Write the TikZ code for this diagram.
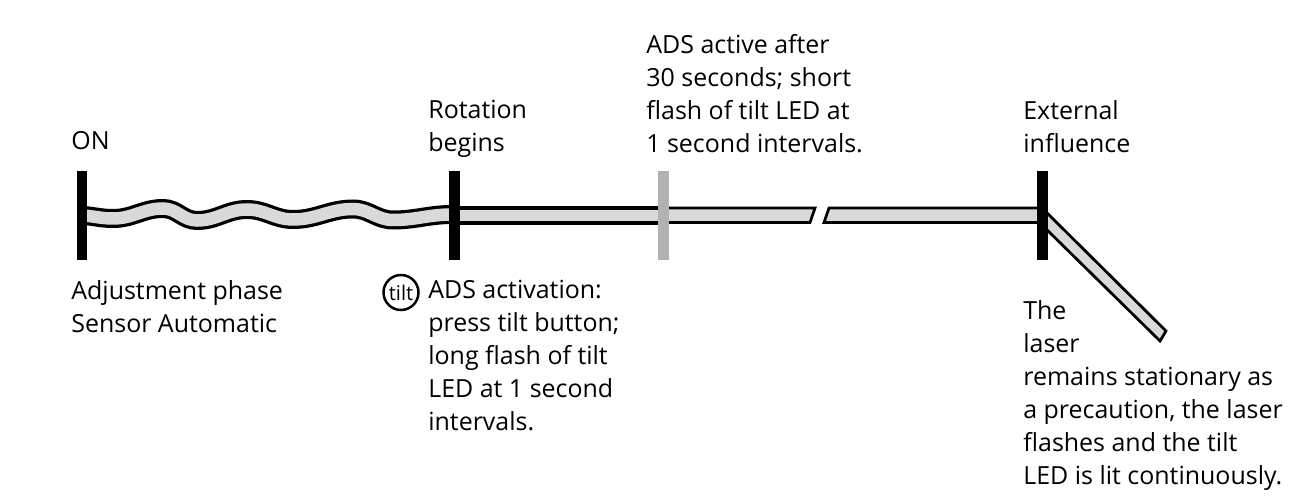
\documentclass[tikz,border=0pt]{standalone}
\usepackage{fontspec}
\setmainfont{Open Sans}
\usepackage{xcolor}
\definecolor{bandgray}{HTML}{D9D9D9}
\definecolor{midbar}{HTML}{B2B2B2}
\tikzset{
  lbl/.style={anchor=north west, inner sep=0pt, align=left, font=\fontsize{14.2}{18.75}\selectfont},
  bar/.style={fill=black, inner sep=0pt, minimum width=0.22cm, minimum height=1.78cm},
  band/.style={draw=black, fill=bandgray, line width=0.055cm, line join=miter},
}

\begin{document}
\begin{tikzpicture}[x=0.02cm,y=-0.02cm]
\useasboundingbox (0,0) rectangle (1293,496);

% wavy adjustment phase
\draw[line width=0.065cm, double=bandgray, double distance=0.25cm, black]
  (84,215.5) to[out=-5,in=180] (113,218.5) to[out=0,in=180] (163,208.5) to[out=0,in=180] (197,220.5)
  to[out=0,in=180] (247,209.5) to[out=0,in=180] (293,219.5) to[out=0,in=180] (353,209)
  to[out=0,in=180] (393,220) to[out=0,in=180] (452,214.5);

% rotating part
\fill[bandgray] (452,208) rectangle (662,223);
\draw[line width=0.08cm] (452,208) -- (662,208) (452,223) -- (662,223);
\draw[band] (662,208) -- (815,208) -- (810,222.5) -- (662,222.5);
\draw[band] (829,208) -- (1042,208) -- (1042,222.5) -- (824,222.5) -- cycle;
\draw[band] (1043,209) -- (1166,331) -- (1160,341) -- (1043,226) -- cycle;

\node[bar, minimum width=0.2cm] (onbar) at (82,215.5) {};
\node[bar] (rotbar) at (454.5,215.5) {};
\node[bar, fill=midbar] (adsbar) at (663.5,215.5) {};
\node[bar] (extbar) at (1042.5,215.5) {};

\node[lbl] (on) at (71,131) {ON};
\node[lbl] (adjust) at (71,280) {Adjustment phase\\Sensor Automatic};
\node[lbl] (rotation) at (428,100) {Rotation\\begins};
\node[lbl] (activation) at (428,280) {ADS activation:\\press tilt button;\\long flash of tilt\\LED at 1 second\\intervals.};
\node[lbl] (active) at (646,34) {ADS active after\\30 seconds; short\\flash of tilt LED at\\1 second intervals.};
\node[lbl] (external) at (1023,100) {External\\influence};
\node[lbl] (stationary) at (1023,300) {The\\laser\\remains stationary as\\a precaution, the laser\\flashes and the tilt\\LED is lit continuously.};
\node[draw, circle, line width=0.05cm, minimum size=0.7cm, inner sep=0pt, font=\fontsize{11.5}{12}\selectfont] (tilt) at (401,292.5) {tilt};

\end{tikzpicture}
\end{document}
